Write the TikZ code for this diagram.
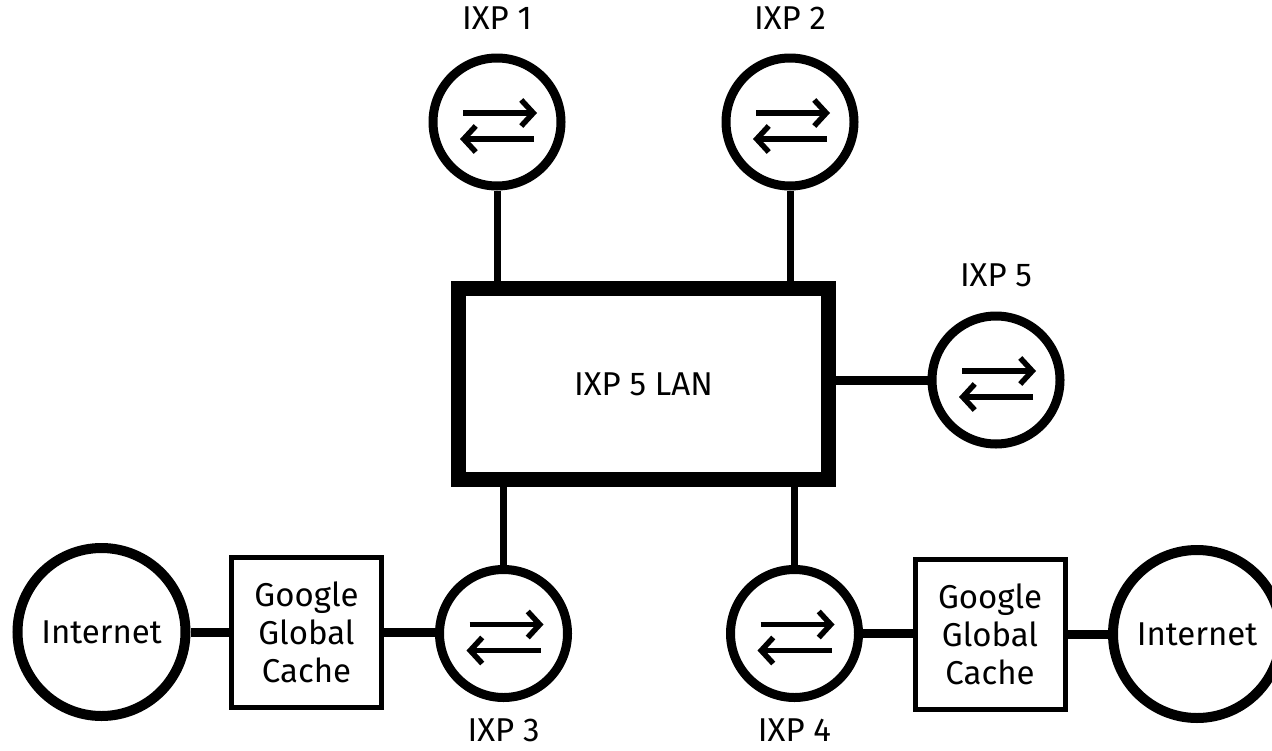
\documentclass[tikz,border=0pt]{standalone}
\usepackage{fontspec}
\setmainfont{Fira Sans}
\usetikzlibrary{arrows.meta}
\tikzset{
	router/.style={circle,draw,line width=9pt,minimum size=128pt,inner sep=0pt,fill=white},
	net/.style={circle,draw,line width=10pt,minimum size=168pt,inner sep=0pt,fill=white},
	cache/.style={draw,line width=5pt,minimum width=150pt,minimum height=150pt,inner sep=0pt,align=center,fill=white},
	lan/.style={draw,line width=15pt,minimum width=370pt,minimum height=191pt,inner sep=0pt,fill=white},
	link/.style={line width=7pt},
	thick link/.style={line width=9pt},
	flow/.style={line width=5.5pt,-{Straight Barb[length=12pt,width=26pt]}},
	tag/.style={label distance=24pt,inner sep=0pt},
	low tag/.style={label distance=17pt,inner sep=0pt},
}
\begin{document}
\begin{tikzpicture}[x=1pt,y=-1pt,font=\fontsize{33}{38}\selectfont]
			\useasboundingbox (0,0) rectangle (1272,750);
			\node[lan] (lan) at (643.5,384) {IXP 5 LAN};
			\node[router,label={[tag]90:IXP 1}] (ixp1) at (497,122) {};
			\node[router,label={[tag]90:IXP 2}] (ixp2) at (790,122) {};
			\node[router,label={[tag]90:IXP 5}] (ixp5) at (996,380) {};
			\node[router,label={[low tag]-90:IXP 3}] (ixp3) at (503.5,633.5) {};
			\node[router,label={[low tag]-90:IXP 4}] (ixp4) at (794.5,633.5) {};
			\node[cache] (ggcl) at (306.5,632) {Google\\Global\\Cache};
			\node[cache] (ggcr) at (990,634) {Google\\Global\\Cache};
			\node[net] (netl) at (101.5,632) {Internet};
			\node[net] (netr) at (1197,634) {Internet};
			% router arrows
			\foreach \r in {ixp1,ixp2,ixp3,ixp4,ixp5}{
				\draw[flow] ([shift={(-34,-9)}]\r.center) -- ([shift={(40,-9)}]\r.center);
				\draw[flow] ([shift={(37,17)}]\r.center) -- ([shift={(-37,17)}]\r.center);
			}
			% links to the LAN
			\draw[link] (ixp1.south) -- (ixp1.south |- lan.north);
			\draw[link] (ixp2.south) -- (ixp2.south |- lan.north);
			\draw[link] (ixp3.north) -- (ixp3.north |- lan.south);
			\draw[link] (ixp4.north) -- (ixp4.north |- lan.south);
			\draw[thick link] (ixp5.west) -- (ixp5.west -| lan.east);
			% links to the caches
			\draw[thick link] (netl.east) -- (netl.east -| ggcl.west);
			\draw[thick link] (ggcl.east) -- (ggcl.east -| ixp3.west);
			\draw[thick link] (ixp4.east) -- (ixp4.east -| ggcr.west);
			\draw[thick link] (ggcr.east) -- (ggcr.east -| netr.west);
		\end{tikzpicture}
\end{document}
